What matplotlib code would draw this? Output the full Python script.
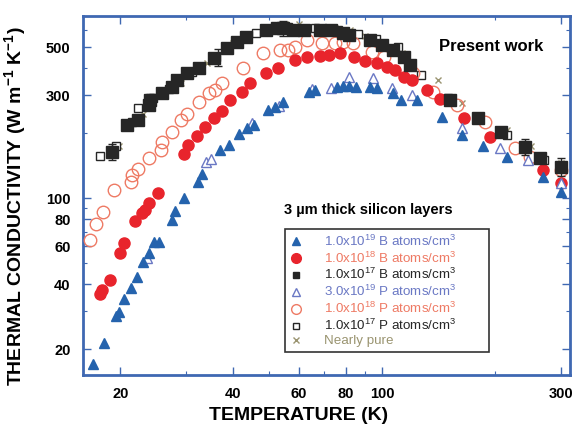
import matplotlib
matplotlib.use("Agg")
import matplotlib.pyplot as plt
from matplotlib.ticker import FixedLocator, NullFormatter, LogLocator
from matplotlib.lines import Line2D

plt.rcParams['font.family'] = ['Liberation Sans', 'DejaVu Sans']
plt.rcParams['mathtext.default'] = 'regular'

# ---------------- data ----------------
b19_T = [16.9, 18.1, 19.5, 19.8, 20.5, 21.3, 22.2, 23.0, 23.9, 24.6, 25.3, 27.5, 27.9, 29.5, 32.2,
         33.0, 37, 38.9, 41.4, 43.6, 45.4, 49.7, 51.7, 54.5, 63.6, 66.2, 75.6, 78.6, 81.7, 85,
         92.8, 96.6, 107, 112, 124, 144, 163, 186, 215, 269, 300]
b19_k = [17.0, 21.3, 28.5, 29.8, 34, 38.5, 43.3, 50.7, 55.9, 62.8, 63, 79.6, 87, 100, 119,
         130, 167, 176, 198, 210, 218, 255, 264, 279, 310, 316, 328, 330, 330, 328,
         328, 322, 305, 284, 284, 238, 196, 174, 155, 125, 107]

p19_T = [23.5, 33.9, 35, 45, 53, 65, 72.8, 81.7, 94.6, 106, 120, 163, 206, 245, 300]
p19_k = [53, 147, 152, 222, 268, 320, 322, 364, 358, 322, 300, 210, 170, 150, 118]

b18_T = [17.7, 17.9, 18.8, 20, 20.5, 21.9, 22.9, 23.3, 23.8, 25.2, 29.5, 30.4, 32.0, 33.7, 35.5,
         37.3, 39.3, 42.2, 44.4, 49, 52.6, 58.6, 62.9, 68.2, 71.9, 77.2, 84, 90, 96.6, 103,
         108, 114, 120, 131.6, 142.6, 165, 194, 269, 300]
b18_k = [36.2, 37.5, 41.7, 55.9, 62, 78.5, 85, 88, 95, 106, 160, 176, 194, 214, 236,
         253, 284, 310, 340, 378, 399, 435, 451, 454, 459, 468, 451, 432, 420, 405,
         391, 364, 351, 316, 289, 234, 191, 135, 118]

p18_T = [16.6, 17.2, 18.0, 19.2, 21.3, 21.5, 22.3, 23.9, 25.6, 25.9, 27.4, 29.0, 30.2, 32.4, 34.4,
         35.8, 37.3, 42.4, 48.2, 53.4, 56.2, 58.6, 62.9, 69, 74.8, 78.6, 83.6, 94, 101, 121,
         137, 158, 188, 226, 248, 300]
p18_k = [64, 76.3, 86.4, 109, 119, 128, 137, 153, 167, 182, 202, 230, 246, 279, 305,
         316, 342, 399, 468, 485, 485, 502, 540, 520, 520, 530, 520, 476, 451, 378,
         310, 270, 226, 170, 155, 135]

b17_T = [19.0, 20.9, 22.3, 23.8, 24.0, 25.9, 27.4, 28.4, 30.2, 32.4, 35.5, 38.5, 40.9, 43.2, 49,
         52.4, 54.5, 57.9, 61.8, 68.2, 72.8, 78.6, 81.7, 92.8, 99.6, 107, 114, 118.6, 152, 180,
         208, 240, 264, 300]
b17_k = [164, 218, 230, 270, 284, 305, 328, 351, 378, 399, 443, 494, 530, 557, 600,
         611, 611, 600, 600, 600, 600, 580, 568, 540, 511, 484, 451, 413, 284, 234,
         202, 173, 153, 140]
b17_errT = [19.0, 24.0, 36.5, 54.5, 240, 300]
b17_errk = [164, 284, 450, 611, 173, 140]
b17_err = [14, 20, 40, 50, 14, 14]

p17_T = [17.7, 19.5, 21.5, 22.3, 24.5, 27, 31, 36, 46, 56, 66, 76, 86, 96, 110, 127, 150, 180, 215, 270, 300]
p17_k = [157, 175, 225, 260, 290, 320, 385, 450, 580, 620, 610, 600, 575, 545, 500, 371, 290, 236, 195, 150, 140]

pure_T = [19.8, 23, 26, 29, 34, 40, 48, 55, 60, 65, 75, 82, 90, 100, 113, 141, 163, 215, 250, 300]
pure_k = [175, 245, 300, 340, 420, 520, 600, 640, 640, 620, 615, 600, 560, 525, 470, 351, 275, 206, 175, 145]

x_ticks = [20, 40, 60, 80, 100, 300]
y_ticks = [20, 40, 60, 80, 100, 300, 500]

labels = [r"1.0x10$^{19}$ B atoms/cm$^3$", r"1.0x10$^{18}$ B atoms/cm$^3$", r"1.0x10$^{17}$ B atoms/cm$^3$",
          r"3.0x10$^{19}$ P atoms/cm$^3$", r"1.0x10$^{18}$ P atoms/cm$^3$", r"1.0x10$^{17}$ P atoms/cm$^3$",
          "Nearly pure"]

# ---------------- styles ----------------
BLUE = "#2563ad"
RED = "#e8242c"
BLACK = "#262626"
LBLUE = "#6a78c4"
ORANGE = "#ee7a64"
OLIVE = "#9a9470"
SPINE = "#3f68b2"

fig = plt.figure(figsize=(5.78, 4.30), dpi=100)
ax = fig.add_axes([83/578, 55/430, 487/578, 359/430])
ax.set_xscale('log')
ax.set_yscale('log')

ax.plot(pure_T, pure_k, ls='none', marker='x', ms=5, mew=1.0, color=OLIVE, zorder=3)
ax.plot(p17_T, p17_k, ls='none', marker='s', ms=6, mfc='white', mec=BLACK, mew=1.0, zorder=3)
ax.errorbar(b17_errT, b17_errk, yerr=b17_err, fmt='none', ecolor=BLACK, elinewidth=1.0, capsize=3, zorder=4)
ax.plot(b17_T, b17_k, ls='none', marker='s', ms=8, color=BLACK, zorder=4)
ax.plot(p18_T, p18_k, ls='none', marker='o', ms=9, mfc='none', mec=ORANGE, mew=1.0, zorder=3)
ax.plot(b18_T, b18_k, ls='none', marker='o', ms=8, color=RED, zorder=3)
ax.plot(p19_T, p19_k, ls='none', marker='^', ms=7, mfc='white', mec=LBLUE, mew=1.0, zorder=3)
ax.plot(b19_T, b19_k, ls='none', marker='^', ms=7, color=BLUE, zorder=4)

ax.set_xlim(15.9, 317)
ax.set_ylim(15.2, 696)

for s in ax.spines.values():
    s.set_color(SPINE)
    s.set_linewidth(2)

ax.xaxis.set_major_locator(FixedLocator(x_ticks))
ax.yaxis.set_major_locator(FixedLocator(y_ticks))
ax.xaxis.set_minor_locator(LogLocator(base=10, subs=[2, 3, 4, 5, 6, 7, 8, 9]))
ax.yaxis.set_minor_locator(LogLocator(base=10, subs=[2, 3, 4, 5, 6, 7, 8, 9]))
ax.xaxis.set_minor_formatter(NullFormatter())
ax.yaxis.set_minor_formatter(NullFormatter())
ax.set_xticklabels([str(v) for v in x_ticks])
ax.set_yticklabels([str(v) for v in y_ticks])
ax.tick_params(which='both', direction='in', top=True, right=True, color=SPINE)
ax.tick_params(which='major', length=6, width=1.0, labelsize=10.5, pad=9)
ax.tick_params(which='minor', length=3, width=0.8)
for lab in ax.get_xticklabels() + ax.get_yticklabels():
    lab.set_fontweight('bold')

ax.set_xlabel("TEMPERATURE (K)", fontsize=14, fontweight='bold', labelpad=3)
ax.xaxis.set_label_coords(0.442, -0.09)
ax.set_ylabel(r"THERMAL CONDUCTIVITY (W m$^{-1}$ K$^{-1}$)", fontsize=14, fontweight='bold')
ax.yaxis.set_label_coords(-0.112, 0.47)

ax.text(0.73, 0.915, "Present work", transform=ax.transAxes, fontsize=12, fontweight='bold', ha='left', va='center')
ax.text(0.412, 0.459, "3 \u00b5m thick silicon layers", transform=ax.transAxes, fontsize=10.5, fontweight='bold',
        ha='left', va='center', zorder=10)

handles = [
    Line2D([], [], ls='none', marker='^', ms=6, color=BLUE),
    Line2D([], [], ls='none', marker='o', ms=7, color=RED),
    Line2D([], [], ls='none', marker='s', ms=5, color=BLACK),
    Line2D([], [], ls='none', marker='^', ms=6, mfc='white', mec=LBLUE),
    Line2D([], [], ls='none', marker='o', ms=7, mfc='white', mec=ORANGE),
    Line2D([], [], ls='none', marker='s', ms=4, mfc='white', mec=BLACK),
    Line2D([], [], ls='none', marker='x', ms=4, color=OLIVE),
]
leg = ax.legend(handles, labels, loc='lower left', bbox_to_anchor=(0.415, 0.064, 0.419, 0.359),
                mode='expand', fontsize=9.6, frameon=True, fancybox=False, borderpad=0.35,
                labelspacing=0.13, handlelength=1.0, handletextpad=1.6, borderaxespad=0,
                labelcolor=[LBLUE, ORANGE, BLACK, LBLUE, ORANGE, BLACK, OLIVE])
leg.get_frame().set_edgecolor('black')
leg.get_frame().set_linewidth(1.2)

fig.savefig("out.png", dpi=100)
